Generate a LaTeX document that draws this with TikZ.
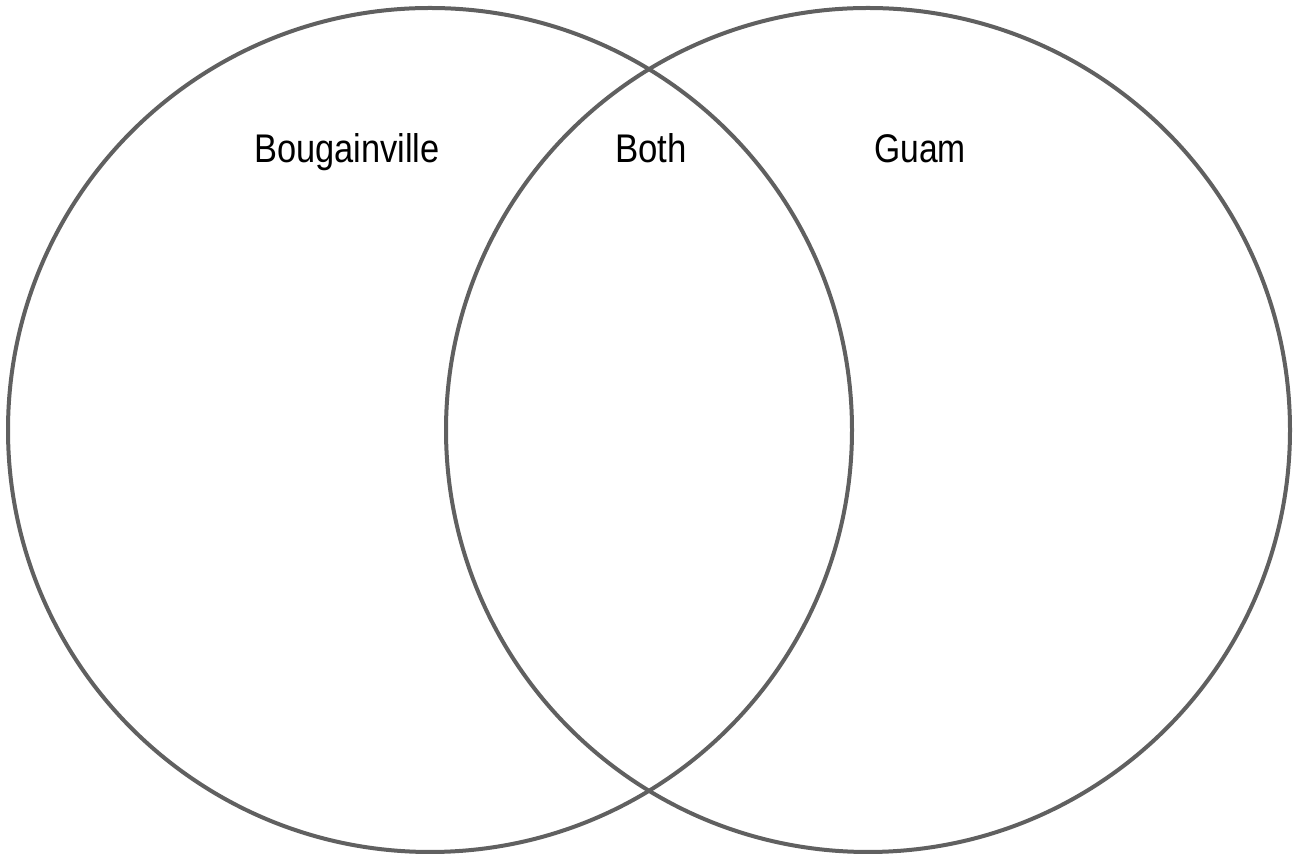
\documentclass[tikz,border=0pt]{standalone}
\usepackage{fontspec}
\setmainfont{Liberation Sans}
\usepackage{graphicx}
\definecolor{ring}{HTML}{606060}
\tikzset{
  ring/.style={draw=ring, line width=4pt},
  lbl/.style={anchor=base, inner sep=0pt, text=black, font=\fontsize{40}{40}\selectfont}
}
\begin{document}
\begin{tikzpicture}[x=1pt,y=1pt]
\useasboundingbox[fill=white] (0,0) rectangle (1296,856);
\node[ring, circle, minimum size=844pt, inner sep=0pt] (left) at (430,426) {};
\node[ring, circle, minimum size=844pt, inner sep=0pt] (right) at (868,426) {};
\node[lbl] (bou) at (347,693) {\scalebox{0.86}[1]{Bougainville}};
\node[lbl] (both) at (651,693) {\scalebox{0.87}[1]{Both}};
\node[lbl] (guam) at (920,693) {\scalebox{0.84}[1]{Guam}};
\end{tikzpicture}
\end{document}
